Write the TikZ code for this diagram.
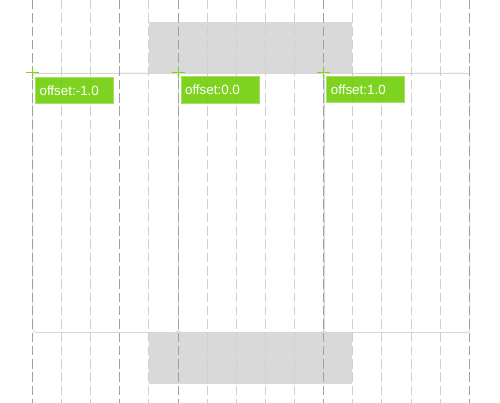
\documentclass[tikz,border=0pt]{standalone}
\usepackage{fontspec}
\setmainfont{Liberation Sans}
\definecolor{lblgreen}{HTML}{7ED321}
\definecolor{lblfill}{HTML}{70CE08}
\definecolor{bandgray}{HTML}{D9D9D9}
\definecolor{gridlight}{HTML}{CFCFCF}
\definecolor{griddark}{HTML}{A0A0A0}
\definecolor{panelline}{HTML}{D6D6D6}
\tikzset{
  band/.style={fill=bandgray, draw=none},
  gridline/.style={draw=gridlight, line width=1pt, dash pattern=on 9.5pt off 3.8pt},
  gridstrong/.style={draw=griddark, line width=1pt, dash pattern=on 9.5pt off 3.8pt},
  panel/.style={draw=panelline, line width=0.8pt, rounded corners=3pt, inner sep=0pt,
    minimum width=145.7pt, minimum height=259pt, anchor=north west},
  crossarm/.style={draw=lblgreen, line width=1pt},
  offsetlabel/.style={fill=lblfill, fill opacity=0.9, text opacity=1, draw=lblgreen!70!white,
    line width=0.5pt, text=white, font=\fontsize{13.4pt}{15pt}\selectfont,
    anchor=north west, inner xsep=4.3pt, inner ysep=0pt, text width=69.4pt,
    minimum height=26.5pt, align=left}
}
\newcommand{\lbltext}[1]{\raisebox{-1.3pt}{#1}}
\begin{document}
\begin{tikzpicture}[x=1pt, y=-1pt]
\useasboundingbox (0,0) rectangle (500,403);
\fill[white] (0,0) rectangle (500,403);
% gray bands
\path[band] (149,22) rectangle (352.3,73);
\path[band] (149,332) rectangle (352.3,384);
% panels
\node[panel] (p1) at (32.3,73) {};
\node[panel] (p2) at (178,73) {};
\node[panel] (p3) at (323.7,73) {};
% grid lines
\foreach \i in {1,2,4,6,7,8,9,11,12,13,14} {
  \coordinate (gt\i) at ({32.3+\i*29.14},0);
  \coordinate (gb\i) at ({32.3+\i*29.14},403);
  \draw[gridline] (gt\i) -- (gb\i);
}
\foreach \i in {0,3,5,10,15} {
  \coordinate (gt\i) at ({32.3+\i*29.14},0);
  \coordinate (gb\i) at ({32.3+\i*29.14},403);
  \draw[gridstrong] (gt\i) -- (gb\i);
}
% crosshairs
\foreach \n/\x in {a/32.3, b/178, c/323.7} {
  \coordinate (c\n) at (\x,73);
  \coordinate (cl\n) at (\x-6.5,73);
  \coordinate (cr\n) at (\x+6.5,73);
  \coordinate (cu\n) at (\x,66.5);
  \coordinate (cd\n) at (\x,79.5);
  \draw[crossarm] (cl\n) -- (cr\n);
  \draw[crossarm] (cu\n) -- (cd\n);
}
% labels
\node[offsetlabel] (l1) at (35,77) {\lbltext{offset:-1.0}};
\node[offsetlabel] (l2) at (180.5,76.5) {\lbltext{offset:0.0}};
\node[offsetlabel] (l3) at (326.3,76) {\lbltext{offset:1.0}};
\end{tikzpicture}
\end{document}
